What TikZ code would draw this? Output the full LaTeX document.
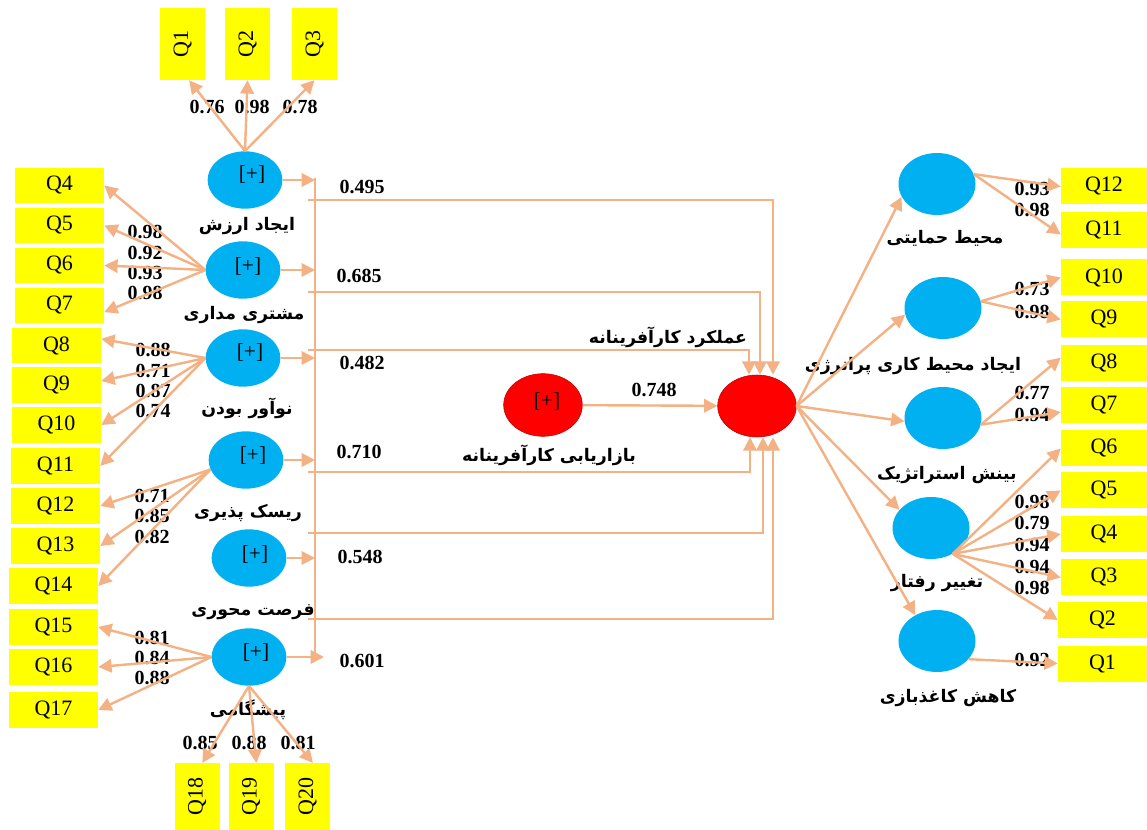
\documentclass[tikz,border=0pt]{standalone}
\usepackage{fontspec}
\setmainfont{Liberation Serif}
\newfontfamily\arabicfont[Script=Arabic]{DejaVu Sans}
\TeXXeTstate=1
\usetikzlibrary{shapes.geometric,arrows.meta}
\definecolor{peach}{RGB}{244,177,131}
\definecolor{skyb}{RGB}{0,176,240}
\definecolor{qyel}{RGB}{255,255,0}
\definecolor{redrim}{RGB}{190,0,0}
\begin{document}
\begin{tikzpicture}[x=0.75pt,y=-0.75pt,
 qbox/.style={fill=qyel, minimum width=66.75pt, minimum height=26.5pt, inner sep=0pt, font=\fontsize{16.5}{16.5}\selectfont},
 rbox/.style={fill=qyel, minimum width=64.5pt, minimum height=27pt, inner sep=0pt, font=\fontsize{16.5}{16.5}\selectfont},
 vbox/.style={fill=qyel, minimum width=33.75pt, inner sep=0pt, font=\fontsize{16.5}{16.5}\selectfont},
 lat/.style={ellipse, fill=skyb, minimum width=56pt, minimum height=43pt, inner sep=0pt},
 rlat/.style={ellipse, fill=skyb, minimum width=57.75pt, minimum height=46.5pt, inner sep=0pt},
 redl/.style={ellipse, fill=red, draw=redrim, line width=0.4pt, minimum width=59pt, minimum height=47pt, inner sep=0pt},
 plus/.style={font=\fontsize{16}{16}\selectfont, inner sep=0pt},
 num/.style={font=\bfseries\fontsize{15}{15}\selectfont, inner sep=0pt},
 fa/.style={font=\arabicfont\bfseries\fontsize{13}{13}\selectfont, inner sep=0pt},
 arr/.style={draw=peach, line width=1.8pt, -{Triangle[length=10pt,width=10pt]}},
 ln/.style={draw=peach, line width=1.8pt},
]
\fill[white] (0,0) rectangle (1147,830);
\useasboundingbox (0,0) rectangle (1147,830);

% ---------- top boxes ----------
\node[vbox, minimum height=54pt] (q1) at (182.5,44) {\rotatebox{90}{Q1}};
\node[vbox, minimum height=54pt] (q2) at (247.5,44) {\rotatebox{90}{Q2}};
\node[vbox, minimum height=54pt] (q3) at (314.5,44) {\rotatebox{90}{Q3}};
% ---------- bottom boxes ----------
\node[vbox, minimum height=50pt] (q18) at (197,796.5) {\rotatebox{90}{Q18}};
\node[vbox, minimum height=50pt] (q19) at (251,796.5) {\rotatebox{90}{Q19}};
\node[vbox, minimum height=50pt] (q20) at (307.5,796.5) {\rotatebox{90}{Q20}};

% ---------- left boxes ----------
\node[qbox] (q4)  at (59.5,185.5) {Q4};
\node[qbox] (q5)  at (59.5,225.5) {Q5};
\node[qbox] (q6)  at (59.5,265.5) {Q6};
\node[qbox] (q7)  at (59.5,305.5) {Q7};
\node[qbox] (q8)  at (56.5,345.5) {Q8};
\node[qbox] (q9)  at (56.5,385) {Q9};
\node[qbox] (q10) at (56.5,425) {Q10};
\node[qbox] (q11) at (55.5,466) {Q11};
\node[qbox] (q12) at (55.5,506) {Q12};
\node[qbox] (q13) at (55.5,546) {Q13};
\node[qbox] (q14) at (53.5,586) {Q14};
\node[qbox] (q15) at (53.5,627) {Q15};
\node[qbox] (q16) at (53.5,667) {Q16};
\node[qbox] (q17) at (53.5,710) {Q17};

% ---------- right boxes ----------
\node[rbox] (s12) at (1104,186.5) {Q12};
\node[rbox] (s11) at (1104,230.5) {Q11};
\node[rbox] (s10) at (1104,277.5) {Q10};
\node[rbox] (s9)  at (1104,319.5) {Q9};
\node[rbox] (s8)  at (1104,363) {Q8};
\node[rbox] (s7)  at (1104,405.5) {Q7};
\node[rbox] (s6)  at (1104,448.5) {Q6};
\node[rbox] (s5)  at (1104,490.5) {Q5};
\node[rbox] (s4)  at (1104,534) {Q4};
\node[rbox] (s3)  at (1104,577.5) {Q3};
\node[rbox, minimum width=66.75pt] (s2)  at (1102.5,620) {Q2};
\node[rbox, minimum width=66.75pt] (s1)  at (1102.5,663.5) {Q1};

% ---------- left latent variables ----------
\node[lat] (e1) at (245,180) {};
\node[lat] (e2) at (243,270) {};
\node[lat] (e3) at (243,358) {};
\node[lat] (e4) at (246,460) {};
\node[lat] (e5) at (249,558) {};
\node[lat] (e6) at (249,657) {};
\node[plus] (p1) at (252,175) {[+]};
\node[plus] (p2) at (248,267) {[+]};
\node[plus] (p3) at (250,353) {[+]};
\node[plus] (p4) at (253,456) {[+]};
\node[plus] (p5) at (255,555) {[+]};
\node[plus] (p6) at (256,653) {[+]};

\node[fa] (l1) at (247,226) {\beginR ایجاد ارزش\endR};
\node[fa] (l2) at (244,315) {\beginR مشتری مداری\endR};
\node[fa] (l3) at (247,408) {\beginR نوآور بودن\endR};
\node[fa] (l4) at (248,513) {\beginR ریسک پذیری\endR};
\node[fa] (l5) at (253,612) {\beginR فرصت محوری\endR};
\node[fa] (l6) at (248,710) {\beginR پیشگامی\endR};

% ---------- central nodes ----------
\node[redl] (mk) at (543,405) {};
\node[plus] (p7) at (547,402) {[+]};
\node[redl, minimum height=46.5pt] (perf) at (757,406) {};
\node[fa] (l7) at (549,455) {\beginR بازاریابی کارآفرینانه\endR};
\node[fa] (l8) at (668,337) {\beginR عملکرد کارآفرینانه\endR};

% ---------- right latent variables ----------
\node[rlat] (r1) at (937,184) {};
\node[rlat] (r2) at (943,308) {};
\node[rlat] (r3) at (943,418) {};
\node[rlat] (r4) at (931,528) {};
\node[rlat] (r5) at (937,641) {};
\node[fa] (m1) at (945,238) {\beginR محیط حمایتی\endR};
\node[fa] (m2) at (913,366) {\beginR ایجاد محیط کاری پرانرژی\endR};
\node[fa] (m3) at (947,475) {\beginR بینش استراتژیک\endR};
\node[fa] (m4) at (937,583) {\beginR تغییر رفتار\endR};
\node[fa] (m5) at (948,698) {\beginR کاهش کاغذبازی\endR};

% ---------- loading labels ----------
\node[num] (n1) at (207,107) {0.76};
\node[num] (n2) at (252,107) {0.98};
\node[num] (n3) at (300,107) {0.78};
\node[num] (n4) at (145,232) {0.98};
\node[num] (n5) at (145,253) {0.92};
\node[num] (n6) at (145,273) {0.93};
\node[num] (n7) at (145,293) {0.98};
\node[num] (n8) at (153,350) {0.88};
\node[num] (n9) at (153,371) {0.71};
\node[num] (n10) at (153,391) {0.87};
\node[num] (n11) at (153,411) {0.74};
\node[num] (n12) at (152,496) {0.71};
\node[num] (n13) at (152,516) {0.85};
\node[num] (n14) at (152,537) {0.82};
\node[num] (n15) at (152,638) {0.81};
\node[num] (n16) at (152,658) {0.84};
\node[num] (n17) at (152,678) {0.88};
\node[num] (n18) at (200,743) {0.85};
\node[num] (n19) at (249,743) {0.88};
\node[num] (n20) at (298,743) {0.81};

\node[num] (c1) at (362,187) {0.495};
\node[num] (c2) at (359,276) {0.685};
\node[num] (c3) at (362,363) {0.482};
\node[num] (c4) at (359,452) {0.710};
\node[num] (c5) at (360,557) {0.548};
\node[num] (c6) at (362,661) {0.601};
\node[num] (c7) at (654,390) {0.748};

\node[num] (t1) at (1032,189) {0.93};
\node[num] (t2) at (1032,210) {0.98};
\node[num] (t3) at (1032,289) {0.73};
\node[num] (t4) at (1032,312) {0.98};
\node[num] (t5) at (1032,393) {0.77};
\node[num] (t6) at (1032,415) {0.94};
\node[num] (t7) at (1032,502) {0.98};
\node[num] (t8) at (1032,523) {0.79};
\node[num] (t9) at (1032,545) {0.94};
\node[num] (t10) at (1032,567) {0.94};
\node[num] (t11) at (1032,588) {0.98};
\node[num] (t12) at (1032,660) {0.92};

% ---------- bus ----------
\coordinate (bt) at (315,178);
\coordinate (bb) at (315,657);
\coordinate (pe) at (324,657);
\coordinate (h1) at (308,200);
\coordinate (h2) at (308,292);
\coordinate (h3) at (308,350);
\coordinate (h4) at (308,472);
\coordinate (h5) at (308,533);
\coordinate (h6) at (308,619);

% ---------- connectors ----------
\draw[arr] (e1.north) -- ([xshift=5pt]q1.south);
\draw[arr] (e1.north) -- (q2.south);
\draw[arr] (e1.north) -- (q3.south);

\draw[arr] (e2.west) -- (q4.east);
\draw[arr] (e2.west) -- (q5.east);
\draw[arr] (e2.west) -- (q6.east);
\draw[arr] (e2.west) -- ([yshift=-5pt]q7.east);

\draw[arr] (e3.west) -- ([yshift=5pt]q8.east);
\draw[arr] (e3.west) -- ([yshift=3pt]q9.east);
\draw[arr] (e3.west) -- (q10.east);
\draw[arr] (e3.west) -- (q11.east);

\draw[arr] (e4.195) -- (q12.east);
\draw[arr] (e4.195) -- (q13.east);
\draw[arr] (e4.195) -- (q14.east);

\draw[arr] (e6.west) -- (q15.east);
\draw[arr] (e6.west) -- (q16.east);
\draw[arr] (e6.west) -- (q17.east);

\draw[arr] (e6.south) -- ([xshift=4pt]q18.north);
\draw[arr] (e6.south) -- ([xshift=4pt]q19.north);
\draw[arr] (e6.south) -- ([xshift=4pt]q20.north);

\draw[ln] (bt) -- (bb);
\draw[arr] (e1.east) -- (e1.east -| bt);
\draw[arr] (e2.east) -- (e2.east -| bt);
\draw[arr] (e3.east) -- (e3.east -| bt);
\draw[arr] (e4.east) -- (e4.east -| bt);
\draw[arr] (e5.east) -- (e5.east -| bt);
\draw[arr] (e6.east) -- (pe);

\draw[arr] (h1) -| ([xshift=12pt]perf.north);
\draw[arr] (h2) -| ([xshift=2.25pt]perf.north);
\draw[arr] (h3) -| ([xshift=-6pt]perf.north);
\draw[arr] (h4) -| ([xshift=-5.25pt]perf.south);
\draw[arr] (h5) -| ([xshift=4.5pt]perf.south);
\draw[arr] (h6) -| ([xshift=12pt]perf.south);

\draw[arr] (mk) -- (perf);

\draw[arr] (perf.east) -- (r1.200);
\draw[arr] (perf.east) -- (r2.190);
\draw[arr] (perf.east) -- (r3.185);
\draw[arr] (perf.east) -- (r4.150);
\draw[arr] (perf.east) -- (r5.130);

\draw[arr] (r1.15) -- (s12.west);
\draw[arr] (r1.15) -- ([yshift=-3pt]s11.west);
\draw[arr] (r2.10) -- (s10.west);
\draw[arr] (r2.10) -- (s9.west);
\draw[arr] (r3.350) -- ([yshift=4pt]s8.west);
\draw[arr] (r3.350) -- ([yshift=-5pt]s7.west);
\draw[arr] (r4.310) -- (s6.west);
\draw[arr] (r4.310) -- (s5.west);
\draw[arr] (r4.310) -- (s4.west);
\draw[arr] (r4.310) -- (s3.west);
\draw[arr] (r4.310) -- (s2.west);
\draw[arr] (r5.330) -- (s1.west);
\end{tikzpicture}
\end{document}
